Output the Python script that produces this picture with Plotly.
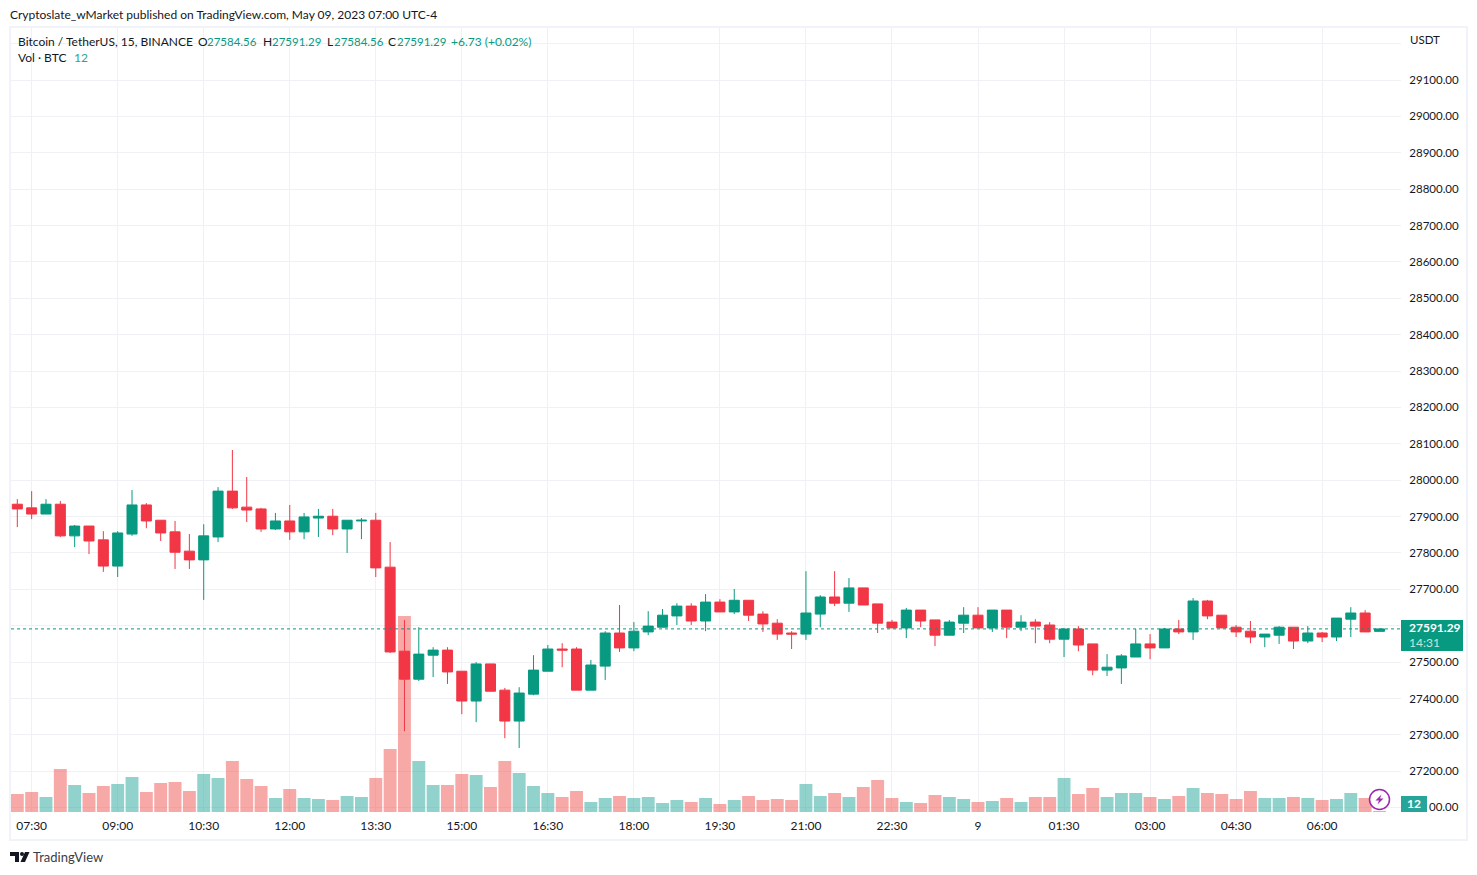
import plotly.graph_objects as go

opens = [27934,27924,27907,27934,27847,27874,27836,27764,27852,27932,27890,27858,27805,27781,27844,27970,27926,27921,27866,27888,27858,27896,27901,27866,27888,27890,27761,27530,27453,27519,27533,27475,27393,27495,27423,27338,27412,27475,27536,27536,27423,27489,27580,27539,27583,27596,27627,27654,27613,27665,27638,27670,27632,27607,27580,27577,27632,27679,27662,27704,27660,27610,27594,27643,27616,27574,27607,27629,27594,27643,27596,27610,27602,27563,27591,27550,27478,27484,27514,27550,27539,27591,27583,27668,27629,27596,27585,27569,27574,27596,27558,27580,27569,27618,27635,27584.56]
highs = [27948,27970,27948,27943,27877,27874,27860,27860,27973,27937,27890,27888,27852,27879,27981,28083,28009,27924,27910,27932,27910,27921,27921,27890,27896,27910,27830,27616,27596,27541,27541,27475,27500,27495,27429,27431,27519,27547,27552,27541,27506,27585,27657,27610,27640,27646,27662,27662,27687,27673,27701,27670,27640,27618,27585,27750,27684,27750,27731,27704,27660,27616,27649,27643,27616,27616,27651,27651,27643,27643,27629,27618,27610,27594,27599,27550,27522,27522,27591,27577,27594,27616,27676,27671,27629,27602,27613,27577,27599,27596,27599,27583,27621,27651,27643,27591.29]
lows = [27871,27893,27907,27844,27816,27797,27748,27734,27847,27868,27833,27756,27756,27671,27830,27921,27885,27858,27863,27836,27838,27844,27849,27800,27838,27734,27525,27310,27448,27459,27440,27357,27335,27420,27291,27264,27409,27475,27486,27423,27423,27451,27528,27530,27574,27596,27602,27602,27585,27638,27632,27613,27583,27561,27536,27561,27596,27654,27638,27657,27580,27594,27566,27596,27544,27574,27580,27594,27583,27566,27585,27552,27552,27514,27530,27464,27462,27440,27514,27508,27539,27577,27561,27618,27594,27569,27552,27541,27550,27536,27552,27555,27558,27569,27583,27584.56]
closes = [27921,27907,27934,27847,27874,27833,27764,27855,27932,27888,27855,27802,27781,27847,27970,27924,27918,27866,27888,27858,27899,27901,27866,27890,27890,27759,27528,27453,27522,27533,27473,27393,27495,27420,27338,27415,27478,27536,27533,27423,27492,27580,27539,27585,27599,27629,27654,27613,27665,27638,27670,27629,27605,27577,27577,27635,27679,27662,27704,27657,27607,27594,27643,27613,27574,27610,27629,27594,27643,27596,27610,27599,27563,27591,27547,27478,27486,27517,27550,27539,27591,27583,27668,27627,27594,27583,27569,27577,27596,27558,27580,27569,27621,27635,27583,27591.29]
volumes = [216,240,180,516,324,228,312,336,420,240,348,360,252,456,408,612,396,312,168,276,168,156,144,192,180,408,756,2352,612,324,324,456,444,300,612,468,312,228,180,252,120,168,192,168,180,108,144,120,168,96,144,192,144,156,144,336,192,228,180,300,384,168,120,108,204,180,156,120,132,168,120,180,180,408,216,288,180,228,228,180,156,192,288,228,216,156,252,168,168,180,168,144,156,228,168,12]

time_tick_bars = [1,7,13,19,25,31,37,43,49,55,61,67,73,79,85,91]
time_labels = ["07:30","09:00","10:30","12:00","13:30","15:00","16:30","18:00","19:30","21:00","22:30","9","01:30","03:00","04:30","06:00"]
price_ticks = [27100,27200,27300,27400,27500,27600,27700,27800,27900,28000,28100,28200,28300,28400,28500,28600,28700,28800,28900,29000,29100,29200]
price_labels = ["" if p in (27100, 27600, 29200) else f"{p}.00" for p in price_ticks]
last_price = 27591.29

UP, DOWN = "#089981", "#F23645"
VUP, VDOWN = "rgba(38,166,154,0.5)", "rgba(239,83,80,0.5)"
TXT, FONT, FS, AXFS = "#131722", "Lato", 12, 11.5
L, R, T, B = 11, 1401, 28, 812
px = lambda v: (v - L) / (R - L)
py = lambda v: 1 - (v - T) / (B - T)

bars = list(range(len(opens)))
fig = go.Figure()
fig.add_trace(go.Bar(x=bars, y=volumes, width=0.9, yaxis="y", hoverinfo="skip",
                     marker=dict(color=[VUP if c >= o else VDOWN for o, c in zip(opens, closes)], line_width=0)))
fig.add_trace(go.Candlestick(x=bars, open=opens, high=highs, low=lows, close=closes, yaxis="y2",
                             whiskerwidth=0, hoverinfo="skip",
                             increasing=dict(line=dict(color=UP, width=1), fillcolor=UP),
                             decreasing=dict(line=dict(color=DOWN, width=1), fillcolor=DOWN)))

def ann(text, x, y, color=TXT, size=FS, anchor="left", weight=None):
    dx = -1.5 if anchor == "left" else 0
    fig.add_annotation(text=f"<b>{text}</b>" if weight else text, x=px(x + dx), y=py(y - 1), xref="paper", yref="paper",
                       xanchor=anchor, yanchor="middle", showarrow=False, borderpad=0,
                       font=dict(family=FONT, size=size, color=color))

def path(points):
    return "M" + " L".join(f"{px(a):.5f},{py(b):.5f}" for a, b in points) + " Z"

def shape_rect(x0, y0, x1, y1, fill):
    fig.add_shape(type="rect", xref="paper", yref="paper", x0=px(x0), x1=px(x1), y0=py(y0), y1=py(y1),
                  fillcolor=fill, line_width=0, layer="above")

# frame
fig.add_shape(type="rect", xref="paper", yref="paper", x0=px(10), x1=px(1467), y0=py(27), y1=py(840),
              line=dict(color="#F0F3FA", width=2), layer="below")
# last price line
fig.add_shape(type="line", xref="paper", yref="y2", x0=0, x1=1, y0=last_price, y1=last_price,
              line=dict(color=UP, width=1, dash="dot"), layer="above")
# badges
shape_rect(1401, 620, 1463, 651, UP)
shape_rect(1401, 796, 1427, 812, "#26A69A")
ann("27591.29", 1409, 628.5, "#FFFFFF", FS, weight=True)
ann("14:31", 1409, 643, "#C4E6E0", FS)
ann("12", 1414, 804.5, "#FFFFFF", FS, "center", True)
ann("00.00", 1429, 807.5, TXT, AXFS)
ann("USDT", 1411, 41, TXT, AXFS)

# lightning icon
fig.add_shape(type="circle", xref="paper", yref="paper", x0=px(1369.5), x1=px(1389.5), y0=py(789.5), y1=py(809.5),
              line=dict(color="#9C27B0", width=1.5), fillcolor="rgba(255,255,255,0.8)", layer="above")
fig.add_shape(type="path", xref="paper", yref="paper", layer="above", fillcolor="#9C27B0", line_width=0,
              path=path([(1381.5,794.5),(1375.5,800.5),(1379,800.5),(1377.5,804.5),(1383.5,798.5),(1380,798.5)]))

# logo
for poly in ([(10,852),(19,852),(19,862),(15,862),(15,856),(10,856)],
             [(25,852),(29.5,852),(25,862),(20.5,862)]):
    fig.add_shape(type="path", xref="paper", yref="paper", layer="above", fillcolor=TXT, line_width=0, path=path(poly))
fig.add_shape(type="circle", xref="paper", yref="paper", x0=px(20), x1=px(24), y0=py(852), y1=py(856),
              fillcolor=TXT, line_width=0, layer="above")

ann("Cryptoslate_wMarket published on TradingView.com, May 09, 2023 07:00 UTC-4", 10, 15)
ann("TradingView", 33, 858, "#3A3D46", 13)
ann("Bitcoin / TetherUS, 15, BINANCE", 18, 42)
ann("O", 198, 42); ann("27584.56", 207, 42, UP, AXFS)
ann("H", 263, 42); ann("27591.29", 272, 42, UP, AXFS)
ann("L", 327, 42); ann("27584.56", 334, 42, UP, AXFS)
ann("C", 388, 42); ann("27591.29", 397, 42, UP, AXFS)
ann("+6.73 (+0.02%)", 451, 42, UP)
ann("Vol · BTC", 18, 59)
ann("12", 74, 59, "#26A69A")

fig.update_layout(
    width=1477, height=875, margin=dict(l=L, r=1477 - R, t=T, b=875 - B),
    paper_bgcolor="#FFFFFF", plot_bgcolor="#FFFFFF", showlegend=False, boxgap=0.3, boxgroupgap=0,
    font=dict(family=FONT, size=FS, color=TXT),
    xaxis=dict(range=[-0.44, 96.5], tickmode="array", tickvals=time_tick_bars, ticktext=time_labels,
               showgrid=True, gridcolor="#F0F1F5", gridwidth=1, zeroline=False, showline=False,
               ticks="outside", ticklen=3, tickcolor="rgba(0,0,0,0)", rangeslider=dict(visible=False),
               fixedrange=True, tickfont=dict(family=FONT, size=FS, color=TXT)),
    yaxis=dict(range=[0, 9408], visible=False, fixedrange=True),
    yaxis2=dict(overlaying="y", side="right", range=[27088, 29243], tickmode="array",
                tickvals=price_ticks, ticktext=price_labels, showgrid=True, gridcolor="#F0F1F5", gridwidth=1,
                zeroline=False, showline=False, ticks="outside", ticklen=5, tickcolor="rgba(0,0,0,0)",
                fixedrange=True, tickfont=dict(family=FONT, size=AXFS, color=TXT)),
)
fig.write_html("out.html", post_script="document.body.style.margin='0';", config=dict(displayModeBar=False))
